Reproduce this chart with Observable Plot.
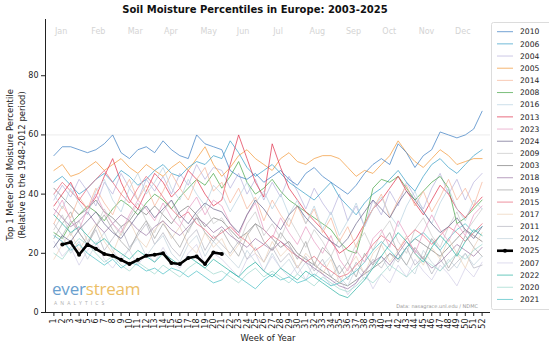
<!DOCTYPE html>
<html><head><meta charset="utf-8">
<script src="https://cdn.jsdelivr.net/npm/d3@7"></script>
<script src="https://cdn.jsdelivr.net/npm/@observablehq/plot@0.6"></script>
<style>
body{margin:0;background:#fff;font-family:"DejaVu Sans",sans-serif;}
#wrap{position:relative;width:549px;height:349px;overflow:hidden;}
#title{position:absolute;left:0;top:4px;width:510px;text-align:center;font-weight:bold;font-size:10px;line-height:12px;color:#111;}
.ylab{position:absolute;top:165px;font-size:8.5px;line-height:10px;color:#222;white-space:nowrap;transform:translate(-50%,-50%) rotate(-90deg);}
#logo{position:absolute;left:52px;top:280px;font-family:"Open Sans",sans-serif;font-size:17px;line-height:18px;opacity:.85;letter-spacing:-0.2px;}
#logo .a{color:#4f8fc6}#logo .b{color:#e9b44c}
#analytics{position:absolute;left:54px;top:300px;font-family:"Open Sans",sans-serif;font-size:5px;letter-spacing:3.1px;color:#b0b0b0;}
#note{position:absolute;right:71px;top:303px;font-size:5px;color:#9a9a9a;}
</style></head><body><div id="wrap"></div>
<script>
// ---- data ----
const weeks = d3.range(1, 53);
const months = ["Jan","Feb","Mar","Apr","May","Jun","Jul","Aug","Sep","Oct","Nov","Dec"];
const yTicks = [0, 20, 40, 60, 80];

const y2010 = [53,56,56,55,54,55,57,60,54,52,55,56,54, 58,55,53,52,60,57,56,55,48,46,45,47,44, 46,48,45,43,47,49,46,44,42,40,43,47,50, 52,50,57,54,49,53,55,61,60,59,60,62,68];
const y2006 = [44,46,43,40,42,45,47,44,48,46,43,45,48, 50,47,46,49,51,50,53,52,58,54,49,46,48, 50,47,44,42,40,38,41,44,39,36,33,37,40, 42,45,48,44,41,46,50,52,49,47,50,53,55];
const y2004 = [38,43,39,45,41,36,44,40,47,42,38,45,41, 46,40,47,43,50,45,49,48,42,47,40,45,38, 44,39,46,41,35,42,37,33,40,31,36,29,38, 33,41,36,44,39,35,42,47,40,45,38,44,47];
const y2005 = [48,50,46,47,49,51,48,50,52,49,47,50,48, 46,49,51,48,52,56,50,46,49,53,55,52,50, 48,52,54,51,50,52,53,53,52,49,46,48,47, 50,53,58,54,51,49,52,55,53,50,51,52,52];
const y2014 = [30,36,32,39,35,42,37,33,40,45,38,43,36, 41,47,42,38,45,49,41,44,37,42,35,39,31, 38,33,29,36,30,35,27,32,24,29,22,30,35, 40,32,38,43,36,41,34,39,45,38,42,36,44];
const y2008 = [27,25,30,33,36,34,31,35,38,36,33,37,40, 38,35,39,42,45,43,47,42,46,51,44,40,42, 45,41,38,36,34,32,30,28,24,21,20,30,42, 45,44,46,42,38,41,44,46,42,30,32,35,38];
const y2016 = [40,35,42,37,33,41,45,38,34,42,47,40,44, 49,42,38,45,40,36,43,40,34,39,44,37,41, 35,40,33,38,30,36,28,34,26,31,37,29,35, 39,33,29,36,41,34,30,37,42,35,31,38,35];
const y2013 = [36,40,44,38,35,39,46,52,44,38,35,41,47, 44,39,42,48,45,40,36,38,50,60,52,44,39, 57,49,42,38,34,31,28,24,20,22,25,30,35, 38,42,46,41,37,33,38,43,40,35,32,36,39];
const y2023 = [33,38,31,28,35,40,34,30,27,33,38,35,31, 37,32,29,35,39,33,38,36,30,26,33,37,28, 25,32,27,23,29,24,20,26,18,14,21,17,25, 28,22,31,26,20,27,33,28,24,30,26,33,36];
const y2024 = [22,26,24,28,31,34,30,27,25,29,33,36,32, 35,38,33,30,34,37,35,34,30,27,33,38,35, 31,28,33,36,32,29,26,24,22,25,30,34,38, 35,32,37,41,38,34,30,27,29,32,28,25,29];
const y2009 = [28,33,26,31,24,29,35,30,26,32,37,31,27, 34,38,31,27,33,36,30,32,27,23,30,34,26, 30,25,32,27,22,28,24,19,25,17,23,27,21, 27,31,24,20,28,32,26,22,29,34,27,31,35];
const y2003 = [42,39,36,33,35,38,34,32,29,31,35,33,36, 33,30,34,36,33,29,32,31,28,25,27,30,28, 25,22,24,20,18,16,14,12,10,9,11,13,15, 17,20,18,22,25,23,21,19,22,25,28,26,24];
const y2018 = [35,32,29,31,34,30,27,30,33,31,28,26,29, 31,28,26,29,32,30,27,29,26,24,22,25,23, 21,24,22,19,17,15,13,11,9,8,10,14,17, 19,16,20,24,21,18,15,17,20,23,21,19,22];
const y2019 = [25,30,34,27,23,29,33,28,24,21,27,31,25, 30,26,22,28,32,27,24,28,23,19,26,30,24, 21,27,23,18,24,16,22,19,13,17,12,20,16, 23,27,20,16,22,18,25,21,15,20,26,22,19];
const y2015 = [40,44,41,38,42,45,48,44,40,37,42,46,43, 39,35,32,34,30,28,25,27,29,26,24,21,23, 26,24,21,19,17,19,16,14,12,13,16,19,23, 26,24,21,25,28,26,23,26,29,27,24,27,30];
const y2017 = [18,23,27,21,26,30,24,20,27,31,25,22,28, 31,25,29,23,20,27,22,25,19,23,27,20,17, 24,19,22,15,20,17,13,18,10,15,19,13,20, 23,17,21,26,20,16,22,18,25,20,15,22,27];
const y2011 = [30,26,31,27,23,28,21,25,29,22,26,30,23, 27,22,19,25,28,21,26,23,20,24,18,22,17, 22,17,20,15,19,14,18,12,16,11,17,13,18, 15,20,17,22,16,19,13,18,14,17,20,15,16];
const y2012 = [22,26,20,24,18,23,27,21,17,22,25,19,23, 26,20,17,23,26,19,24,21,18,15,21,17,14, 20,15,18,13,17,12,16,19,12,9,15,11,16, 19,14,20,16,13,21,17,14,18,15,20,16,19];
const y2007 = [24,19,22,16,21,24,18,15,19,21,16,20,17, 22,17,15,20,23,16,20,18,15,12,18,20,14, 19,15,12,16,11,17,13,9,12,6,10,14,8, 13,10,16,12,18,14,11,16,13,9,15,12,17];
const y2022 = [33,30,27,29,26,23,25,22,20,18,21,19,17, 20,18,16,19,17,15,18,16,14,12,15,17,14, 12,15,13,11,14,12,10,8,6,5,8,11,15, 19,23,27,24,20,17,22,26,23,19,24,28,26];
const y2020 = [20,18,22,25,23,20,17,19,16,14,17,15,13, 16,14,12,15,17,15,13,14,12,10,13,15,12, 14,12,10,13,11,9,12,10,8,7,9,12,10, 13,16,14,12,15,18,16,14,17,20,18,21,23];
const y2021 = [26,24,21,23,20,18,16,18,15,17,16,14,15, 13,15,14,12,14,12,10,11,14,12,10,8,11, 13,11,12,10,11,13,11,9,10,12,14,17,21, 24,21,18,22,25,27,24,21,25,28,30,27,29];
const weeks2025 = d3.range(2, 22);
const y2025 = [23,23.7,19.5,23,21.5,19.8,19.2,17.8,16.4,17.8,19.2,19.5,20,16.7,16.4,18.4,18.9,16.4,20.3,19.8];

// legend order (as in the reference) and colours
const legendYears = ["2010","2006","2004","2005","2014","2008","2016","2013","2023","2024","2009","2003","2018","2019","2015","2017","2011","2012","2025","2007","2022","2020","2021"];
const legendColors = ["#3f7fc4","#3aa0c8","#b9b3dc","#f29a3c","#f5b59a","#4aa64a","#b8d2e0","#e0354f","#e89cc4","#6e6a8e","#c9c9c9","#7f7f7f","#9d7aa6","#a3a3a3","#e8667a","#ecd2bb","#b5b5c0","#c2d2dc","#000000","#d3cfe8","#2fb3a3","#9fd8cf","#4fc1c6"];

const past = {"2003":y2003,"2004":y2004,"2005":y2005,"2006":y2006,"2007":y2007,"2008":y2008,"2009":y2009,"2010":y2010,"2011":y2011,"2012":y2012,"2013":y2013,"2014":y2014,"2015":y2015,"2016":y2016,"2017":y2017,"2018":y2018,"2019":y2019,"2020":y2020,"2021":y2021,"2022":y2022,"2023":y2023,"2024":y2024};

const rows = [];
for (const yr of Object.keys(past).sort()) past[yr].forEach((v, i) => rows.push({year: yr, week: weeks[i], value: v}));
const rows25 = y2025.map((v, i) => ({year: "2025", week: weeks2025[i], value: v}));
const monthRows = months.map((m, i) => ({m, week: 1 + i * 52 / 12}));

const chart = Plot.plot({
  width: 549, height: 349,
  marginLeft: 45, marginRight: 59, marginTop: 19, marginBottom: 37,
  style: {fontFamily: "DejaVu Sans, sans-serif", fontSize: "8px", color: "#222", background: "transparent"},
  x: {domain: [0, 53]},
  y: {domain: [0, 99]},
  color: {domain: legendYears, range: legendColors},
  marks: [
    Plot.ruleY([60], {stroke: "#ececec", strokeWidth: 1}),
    Plot.text(monthRows, {x: "week", text: "m", frameAnchor: "top", dy: 9, dx: 1, textAnchor: "start", fill: "#d4d4d4", fontSize: 8}),
    Plot.line(rows, {x: "week", y: "value", z: "year", stroke: "year", strokeWidth: 1, strokeOpacity: 0.72}),
    Plot.line(rows25, {x: "week", y: "value", stroke: "year", strokeWidth: 2.6}),
    Plot.dot(rows25, {x: "week", y: "value", fill: "year", r: 2}),
    Plot.axisY({ticks: yTicks, tickSize: 4, tickPadding: 3, label: null}),
    Plot.axisX({ticks: weeks, tickRotate: -90, tickSize: 4, tickPadding: 2, label: null}),
    Plot.ruleX([0], {stroke: "#222"}),
    Plot.ruleY([0], {stroke: "#222"}),
    Plot.text(["Week of Year"], {frameAnchor: "bottom", dy: 28, fontSize: 8.5, fill: "#222"})
  ]
});
const wrap = document.getElementById("wrap");
wrap.appendChild(chart);
chart.style.position = "absolute"; chart.style.left = "0"; chart.style.top = "0";

wrap.insertAdjacentHTML("beforeend", '<div id="title">Soil Moisture Percentiles in Europe: 2003-2025</div>' +
  '<div class="ylab" style="left:10px">Top 1 Meter Soil Moisture Percentile</div>' +
  '<div class="ylab" style="left:22px">(Relative to the 1948-2012 period)</div>' +
  '<div id="logo"><span class="a">ever</span><span class="b">stream</span></div>' +
  '<div id="analytics">ANALYTICS</div>' +
  '<div id="note">Data: nasagrace.unl.edu / NDMC</div>');

// legend beside the plot
const leg = d3.select(wrap).append("svg").attr("width", 549).attr("height", 349)
  .style("position", "absolute").style("left", 0).style("top", 0);
leg.append("rect").attr("x", 491.5).attr("y", 22.5).attr("width", 80).attr("height", 287).attr("rx", 2)
  .attr("fill", "white").attr("fill-opacity", 0.8).attr("stroke", "#dcdcdc");
legendYears.forEach((yr, i) => {
  const y = 31.7 + i * 12.17;
  const c = legendColors[i];
  const g = leg.append("g");
  g.append("line").attr("x1", 497).attr("x2", 513).attr("y1", y).attr("y2", y)
    .attr("stroke", c).attr("stroke-width", yr === "2025" ? 2.6 : 1).attr("stroke-opacity", yr === "2025" ? 1 : 0.72);
  if (yr === "2025") g.append("circle").attr("cx", 505).attr("cy", y).attr("r", 2).attr("fill", c);
  g.append("text").attr("x", 520).attr("y", y).attr("dy", "0.35em").attr("font-size", 7.6)
    .attr("font-family", "DejaVu Sans, sans-serif").attr("fill", "#222").text(yr);
});
</script></body></html>
